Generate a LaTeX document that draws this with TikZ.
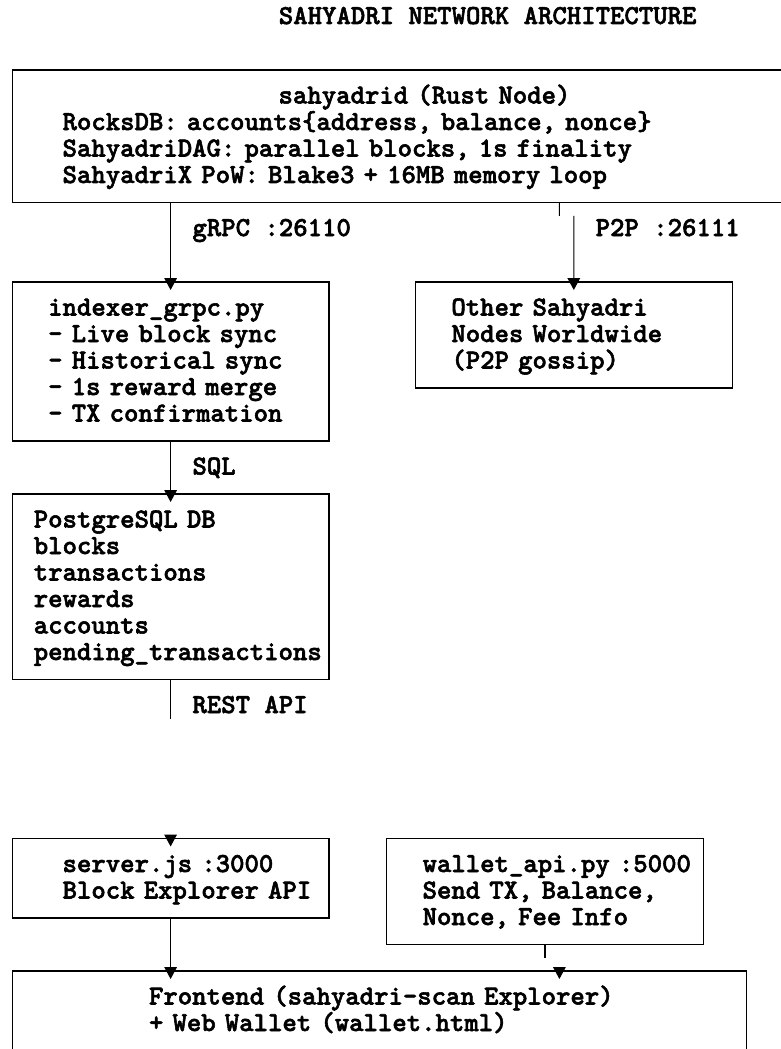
\documentclass[tikz,border=0pt]{standalone}
\usepackage{fontspec}
\usetikzlibrary{arrows.meta}

\newfontfamily\lmbold{lmmonolt10-bold}[Extension=.otf, FakeBold=2]
\newlength{\chw}
\setlength{\chw}{10.8pt}
\newcommand{\mono}{\fontsize{20.57}{19.875}\selectfont\lmbold\lineskiplimit=-40pt\relax}
\newcommand{\ind}[1]{\leftskip=#1\chw\relax}
\newcommand{\rowstrut}{\rule[-5.5pt]{0pt}{21.5pt}}
\newcommand{\lastrow}{\rowstrut\par}

\begin{document}
\begin{tikzpicture}[
  x=0.75pt, y=-0.75pt,
  box/.style={draw, line width=0.8pt, anchor=north west, inner sep=0pt, outer sep=0pt, align=left, font=\mono},
  lbl/.style={anchor=west, inner sep=0pt, font=\mono, text height=16pt, text depth=5.5pt},
  feed/.style={line width=0.8pt, -{Triangle[width=9.5pt,length=9pt]}, shorten >=-6pt}]
  \fill[white, use as bounding box] (0,0) rectangle (781,1049);
  \clip (0,0) rectangle (781,1049);
  % title
  \node[lbl] (title) at (278.6,17) {SAHYADRI NETWORK ARCHITECTURE};
  % the rust node, wider than the page
  \node[box, text width=594pt, minimum height=99.375pt] (core) at (12.2,70) {\ind{3.5}\rowstrut\hspace*{15\chw}sahyadrid (Rust Node)\\
    RocksDB: accounts\{address, balance, nonce\}\\
    SahyadriDAG: parallel blocks, 1s finality\\
    SahyadriX PoW: Blake3 + 16MB memory loop\lastrow};
  % indexer and peers
  \node[box, text width=237.6pt, minimum height=119.25pt] (indexer) at (12.2,282) {\ind{2.5}\rowstrut indexer\_grpc.py\\
    - Live block sync\\
    - Historical sync\\
    - 1s reward merge\\
    - TX confirmation\lastrow};
  \node[box, text width=237.6pt, minimum height=79.5pt] (peers) at (415.4,282) {\ind{2.5}\rowstrut Other Sahyadri\\
    Nodes Worldwide\\
    (P2P gossip)\lastrow};
  % database
  \node[box, text width=237.6pt, minimum height=139.125pt] (pg) at (12.2,494) {\ind{1.5}\rowstrut PostgreSQL DB\\
    blocks\\
    transactions\\
    rewards\\
    accounts\\
    pending\_transactions\lastrow};
  % apis
  \node[box, text width=237.6pt, minimum height=59.625pt] (server) at (12.2,838.5) {\ind{3.5}\rowstrut server.js :3000\\
    Block Explorer API\lastrow};
  \node[box, text width=237.6pt, minimum height=79.5pt] (wallet) at (386.6,838.5) {\ind{2.5}\rowstrut wallet\_api.py :5000\\
    Send TX, Balance,\\
    Nonce, Fee Info\lastrow};
  % frontend, cut off at the bottom
  \node[box, text width=550.8pt, minimum height=59.625pt] (frontend) at (12.2,971) {\ind{9.5}\rowstrut Frontend (sahyadri-scan Explorer)\\
    + Web Wallet (wallet.html)\lastrow};
  % connector labels
  \node[lbl] (grpc) at (192.2,229) {gRPC :26110};
  \node[lbl] (p2p) at (595.4,229) {P2P :26111};
  \node[lbl] (sql) at (192.2,467.5) {SQL};
  \node[lbl] (rest) at (192.2,706) {REST API};
  % connectors
  \draw[feed] (indexer.north |- core.south) -- (indexer.north);
  \draw[feed] ([xshift=-10.8pt]peers.north |- core.south) -- ++(0,13.25) ++(14.4,0) -- (peers.north);
  \draw[feed] (indexer.south) -- (pg.north);
  \draw[feed] (pg.south) -- ++(0,39.75) (server.north) ++(0,-4) -- (server.north);
  \draw[feed] (server.south) -- (server.south |- frontend.north);
  \draw[feed] (wallet.south) -- ++(0,13.25) ([xshift=10.8pt]wallet.south |- frontend.north) ++(0,-4) -- ++(0,4);
\end{tikzpicture}
\end{document}
